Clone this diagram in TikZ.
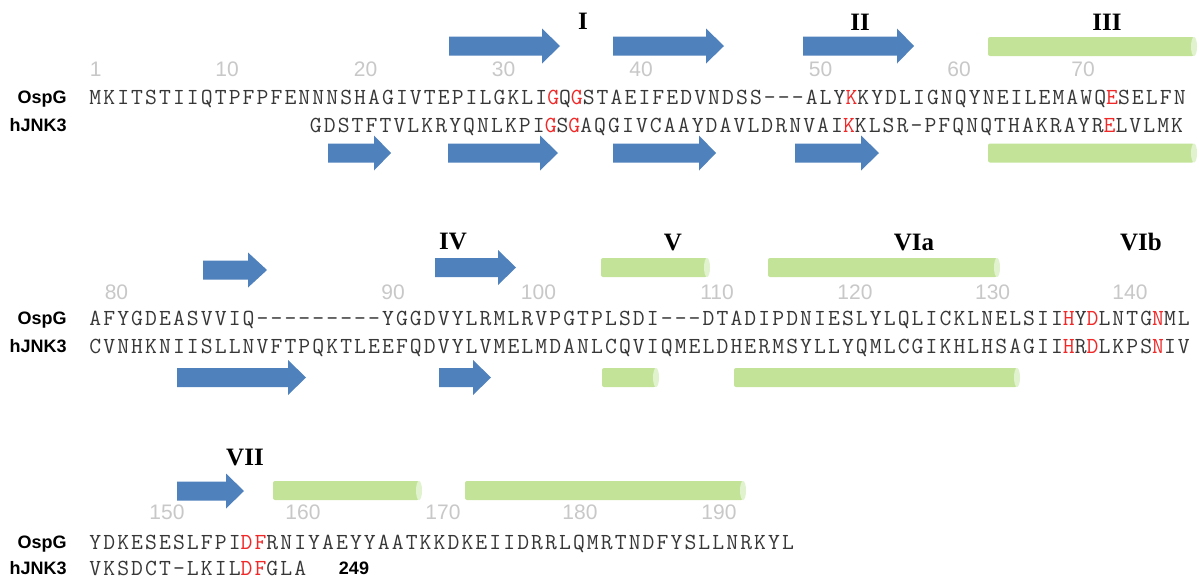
\documentclass[tikz,border=0pt]{standalone}
\usepackage{fontspec}
\usepackage{xcolor}
\newfontfamily\seqfont{Latin Modern Mono}[LetterSpace=9.1,Ligatures=TeXOff]
\newfontfamily\labfont{Liberation Sans}
\newfontfamily\romfont{Liberation Serif}
\definecolor{strandblue}{RGB}{79,129,189}
\definecolor{helixgreen}{RGB}{195,228,152}
\definecolor{helixend}{RGB}{224,242,206}
\definecolor{numgray}{RGB}{200,200,200}
\definecolor{seqgray}{RGB}{55,55,55}
\definecolor{hitred}{RGB}{240,40,40}
\newcommand{\hit}[1]{\textcolor{hitred}{#1}}

\begin{document}
\begin{tikzpicture}[x=0.5pt, y=-0.5pt,
  seqtxt/.style={anchor=west, inner sep=0pt, text height=7pt, text depth=0pt,
    font=\seqfont\fontsize{11.5}{12}\selectfont, text=seqgray},
  protname/.style={anchor=east, inner sep=0pt, text height=6.5pt, text depth=0pt,
    font=\labfont\bfseries\fontsize{9}{10}\selectfont},
  resnum/.style={inner sep=0pt, text height=7.5pt, text depth=0pt,
    font=\labfont\fontsize{10.5}{11}\selectfont, text=numgray},
  motif/.style={inner sep=0pt, text height=8.3pt, text depth=0pt,
    font=\romfont\bfseries\fontsize{12.5}{13}\selectfont},
  strand/.style={fill=strandblue},
  helix/.style={fill=helixgreen, rounded corners=1pt},
  helixcap/.style={fill=helixend}]
  \useasboundingbox[fill=white] (0,0) rectangle (1199,579);
  % bars: strands = arrows (left, head start, tip, y), helices = cylinders (left, right, y)
  \foreach \xa/\xh/\xt/\yc in {449/542/560/46, 613/706/724/46, 803/897/914/46,
      328/374/391/153, 448/540/558/153, 613/699/716/153, 795/861/879/153,
      203/248/267/270, 435/498/516/267.5, 177/288/306/377.5, 439/473/491/377.5,
      177/226/244/491}
    \fill[strand] (\xa,\yc-9.5) -- (\xh,\yc-9.5) -- (\xh,\yc-17.5) -- (\xt,\yc)
      -- (\xh,\yc+17.5) -- (\xh,\yc+9.5) -- (\xa,\yc+9.5) -- cycle;
  \foreach \xa/\xb/\yc in {988/1197/46.5, 988/1197/153,
      601/710/267.5, 768/1000/267.5, 602/659/377.5, 734/1020/377.5,
      273/422/490.5, 465/746/490.5} {
    \fill[helix] (\xa,\yc-9.5) rectangle (\xb-3,\yc+9.5);
    \fill[helixcap] (\xb-3,\yc) ellipse [x radius=1.5pt, y radius=4.75pt];
  }
  % ============= Block 1: residues 1-80 =============
  \node[motif] (mI)   at (583,21) {I};
  \node[motif] (mII)  at (860,22) {II};
  \node[motif] (mIII) at (1107,22) {III};
  \foreach \n/\xn in {1/95.7, 10/227, 20/365.5, 30/503.5, 40/641, 50/820.5, 60/959, 70/1083}
    \node[resnum] (num\n) at (\xn,69) {\n};
  \node[protname] (ospgA) at (67,97) {OspG};
  \node[protname] (jnkA)  at (67,125) {hJNK3};
  \node[seqtxt] (seqospgA) at (89,97)
    {MKITSTIIQTPFPFENNNSHAGIVTEPILGKLI\hit{G}Q\hit{G}STAEIFEDVNDSS---ALY\hit{K}KYDLIGNQYNEILEMAWQ\hit{E}SELFN};
  \node[seqtxt] (seqjnkA) at (309.5,125)
    {GDSTFTVLKRYQNLKPI\hit{G}S\hit{G}AQGIVCAAYDAVLDRNVAI\hit{K}KLSR-PFQNQTHAKRAYR\hit{E}LVLMK};
  % ============= Block 2: residues 81-145 =============
  \node[motif] (mIV)  at (453,241) {IV};
  \node[motif] (mV)   at (673,242) {V};
  \node[motif] (mVIa) at (914,242) {VIa};
  \node[motif] (mVIb) at (1141,242) {VIb};
  \foreach \n/\xn in {80/116.5, 90/393, 100/538.5, 110/717, 120/855, 130/992.6, 140/1130}
    \node[resnum] (num\n) at (\xn,292) {\n};
  \node[protname] (ospgB) at (67,318) {OspG};
  \node[protname] (jnkB)  at (67,346) {hJNK3};
  \node[seqtxt] (seqospgB) at (89,318)
    {AFYGDEASVVIQ---------YGGDVYLRMLRVPGTPLSDI---DTADIPDNIESLYLQLICKLNELSII\hit{H}Y\hit{D}LNTG\hit{N}ML};
  \node[seqtxt] (seqjnkB) at (89,346)
    {CVNHKNIISLLNVFTPQKTLEEFQDVYLVMELMDANLCQVIQMELDHERMSYLLYQMLCGIKHLHSAGII\hit{H}R\hit{D}LKPS\hit{N}IV};
  % ============= Block 3: residues 146-196 =============
  \node[motif] (mVII) at (245,457) {VII};
  \foreach \n/\xn in {150/167, 160/303, 170/443, 180/580, 190/719}
    \node[resnum] (num\n) at (\xn,512) {\n};
  \node[protname] (ospgC) at (67,542) {OspG};
  \node[protname] (jnkC)  at (67,568) {hJNK3};
  \node[seqtxt] (seqospgC) at (89,542)
    {YDKESESLFPI\hit{DF}RNIYAEYYAATKKDKEIIDRRLQMRTNDFYSLLNRKYL};
  \node[seqtxt] (seqjnkC) at (89,568) {VKSDCT-LKIL\hit{DF}GLA};
  \node[protname, anchor=center] (jnkend) at (354,568) {249};
\end{tikzpicture}
\end{document}
